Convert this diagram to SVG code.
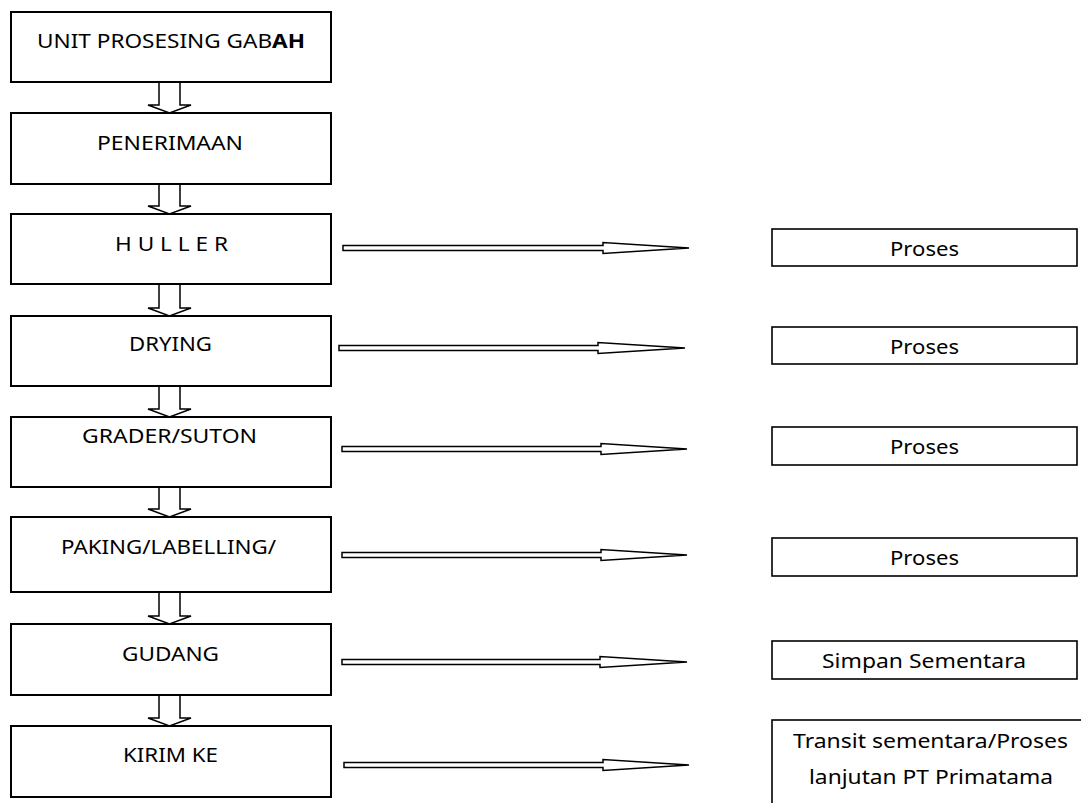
<svg xmlns="http://www.w3.org/2000/svg" width="1081" height="803" viewBox="0 0 1081 803">
<style>
.box{fill:#fff;stroke:#000;stroke-width:2}
.rbox{fill:#fff;stroke:#000;stroke-width:1.6}
.t{font-family:"Noto Sans","Open Sans","Liberation Sans",sans-serif;font-size:20px;fill:#000;text-anchor:middle}
.arr{fill:#fff;stroke:#000;stroke-width:1.5;stroke-linejoin:miter}
</style>
<rect width="1081" height="803" fill="#fff"/>
<g id="connectors">
<path class="arr" d="M159,82 L159,105 L148,105 L169.5,113 L191,105 L180,105 L180,82"/>
<path class="arr" d="M159,184 L159,206 L148,206 L169.5,214 L191,206 L180,206 L180,184"/>
<path class="arr" d="M159,284 L159,308 L148,308 L169.5,316 L191,308 L180,308 L180,284"/>
<path class="arr" d="M159,386 L159,409 L148,409 L169.5,417 L191,409 L180,409 L180,386"/>
<path class="arr" d="M159,487 L159,509 L148,509 L169.5,517 L191,509 L180,509 L180,487"/>
<path class="arr" d="M159,592 L159,616 L148,616 L169.5,624 L191,616 L180,616 L180,592"/>
<path class="arr" d="M159,695 L159,718 L148,718 L169.5,726 L191,718 L180,718 L180,695"/>
<path class="arr" d="M343,245.5 L603,245.5 L603,242.5 L689,248 L603,253.5 L603,250.5 L343,250.5 Z"/>
<path class="arr" d="M339,345.5 L598,345.5 L598,342.5 L685,348 L598,353.5 L598,350.5 L339,350.5 Z"/>
<path class="arr" d="M342,446.5 L601,446.5 L601,443.5 L687,449 L601,454.5 L601,451.5 L342,451.5 Z"/>
<path class="arr" d="M342,552.5 L601,552.5 L601,549.5 L687,555 L601,560.5 L601,557.5 L342,557.5 Z"/>
<path class="arr" d="M342,659.5 L600,659.5 L600,656.5 L687,662 L600,667.5 L600,664.5 L342,664.5 Z"/>
<path class="arr" d="M344,762.5 L603,762.5 L603,759.5 L689,765 L603,770.5 L603,767.5 L344,767.5 Z"/>
</g>
<g id="n1"><rect class="box" x="11" y="12" width="320" height="70"/><text class="t" x="171" y="48" textLength="268" lengthAdjust="spacingAndGlyphs">UNIT PROSESING GAB<tspan font-weight="bold">AH</tspan></text></g>
<g id="n2"><rect class="box" x="11" y="113" width="320" height="71"/><text class="t" x="170" y="150" textLength="146" lengthAdjust="spacingAndGlyphs">PENERIMAAN</text></g>
<g id="n3"><rect class="box" x="11" y="214" width="320" height="70"/><text class="t" x="171.5" y="251" textLength="113" lengthAdjust="spacingAndGlyphs">H U L L E R</text></g>
<g id="n4"><rect class="box" x="11" y="316" width="320" height="70"/><text class="t" x="170.5" y="351" textLength="83" lengthAdjust="spacingAndGlyphs">DRYING</text></g>
<g id="n5"><rect class="box" x="11" y="417" width="320" height="70"/><text class="t" x="169.5" y="443" textLength="175" lengthAdjust="spacingAndGlyphs">GRADER/SUTON</text></g>
<g id="n6"><rect class="box" x="11" y="517" width="320" height="75"/><text class="t" x="168.5" y="554" textLength="215" lengthAdjust="spacingAndGlyphs">PAKING/LABELLING/</text></g>
<g id="n7"><rect class="box" x="11" y="624" width="320" height="71"/><text class="t" x="170.5" y="661" textLength="97" lengthAdjust="spacingAndGlyphs">GUDANG</text></g>
<g id="n8"><rect class="box" x="11" y="726" width="320" height="71"/><text class="t" x="170.5" y="762" textLength="95" lengthAdjust="spacingAndGlyphs">KIRIM KE</text></g>
<g id="r1"><rect class="rbox" x="772" y="229" width="305" height="37"/><text class="t" x="924.5" y="256" textLength="69" lengthAdjust="spacingAndGlyphs">Proses</text></g>
<g id="r2"><rect class="rbox" x="772" y="327" width="305" height="37"/><text class="t" x="924.5" y="354" textLength="69" lengthAdjust="spacingAndGlyphs">Proses</text></g>
<g id="r3"><rect class="rbox" x="772" y="427" width="305" height="38"/><text class="t" x="924.5" y="454" textLength="69" lengthAdjust="spacingAndGlyphs">Proses</text></g>
<g id="r4"><rect class="rbox" x="772" y="538" width="305" height="38"/><text class="t" x="924.5" y="565" textLength="69" lengthAdjust="spacingAndGlyphs">Proses</text></g>
<g id="r5"><rect class="rbox" x="772" y="641" width="305" height="38"/><text class="t" x="924" y="668" textLength="204" lengthAdjust="spacingAndGlyphs">Simpan Sementara</text></g>
<g id="r6"><rect class="rbox" x="772" y="720" width="330" height="120"/><text class="t" x="930.5" y="748" textLength="275" lengthAdjust="spacingAndGlyphs">Transit sementara/Proses</text><text class="t" x="931" y="784" textLength="244" lengthAdjust="spacingAndGlyphs">lanjutan PT Primatama</text></g>
</svg>
